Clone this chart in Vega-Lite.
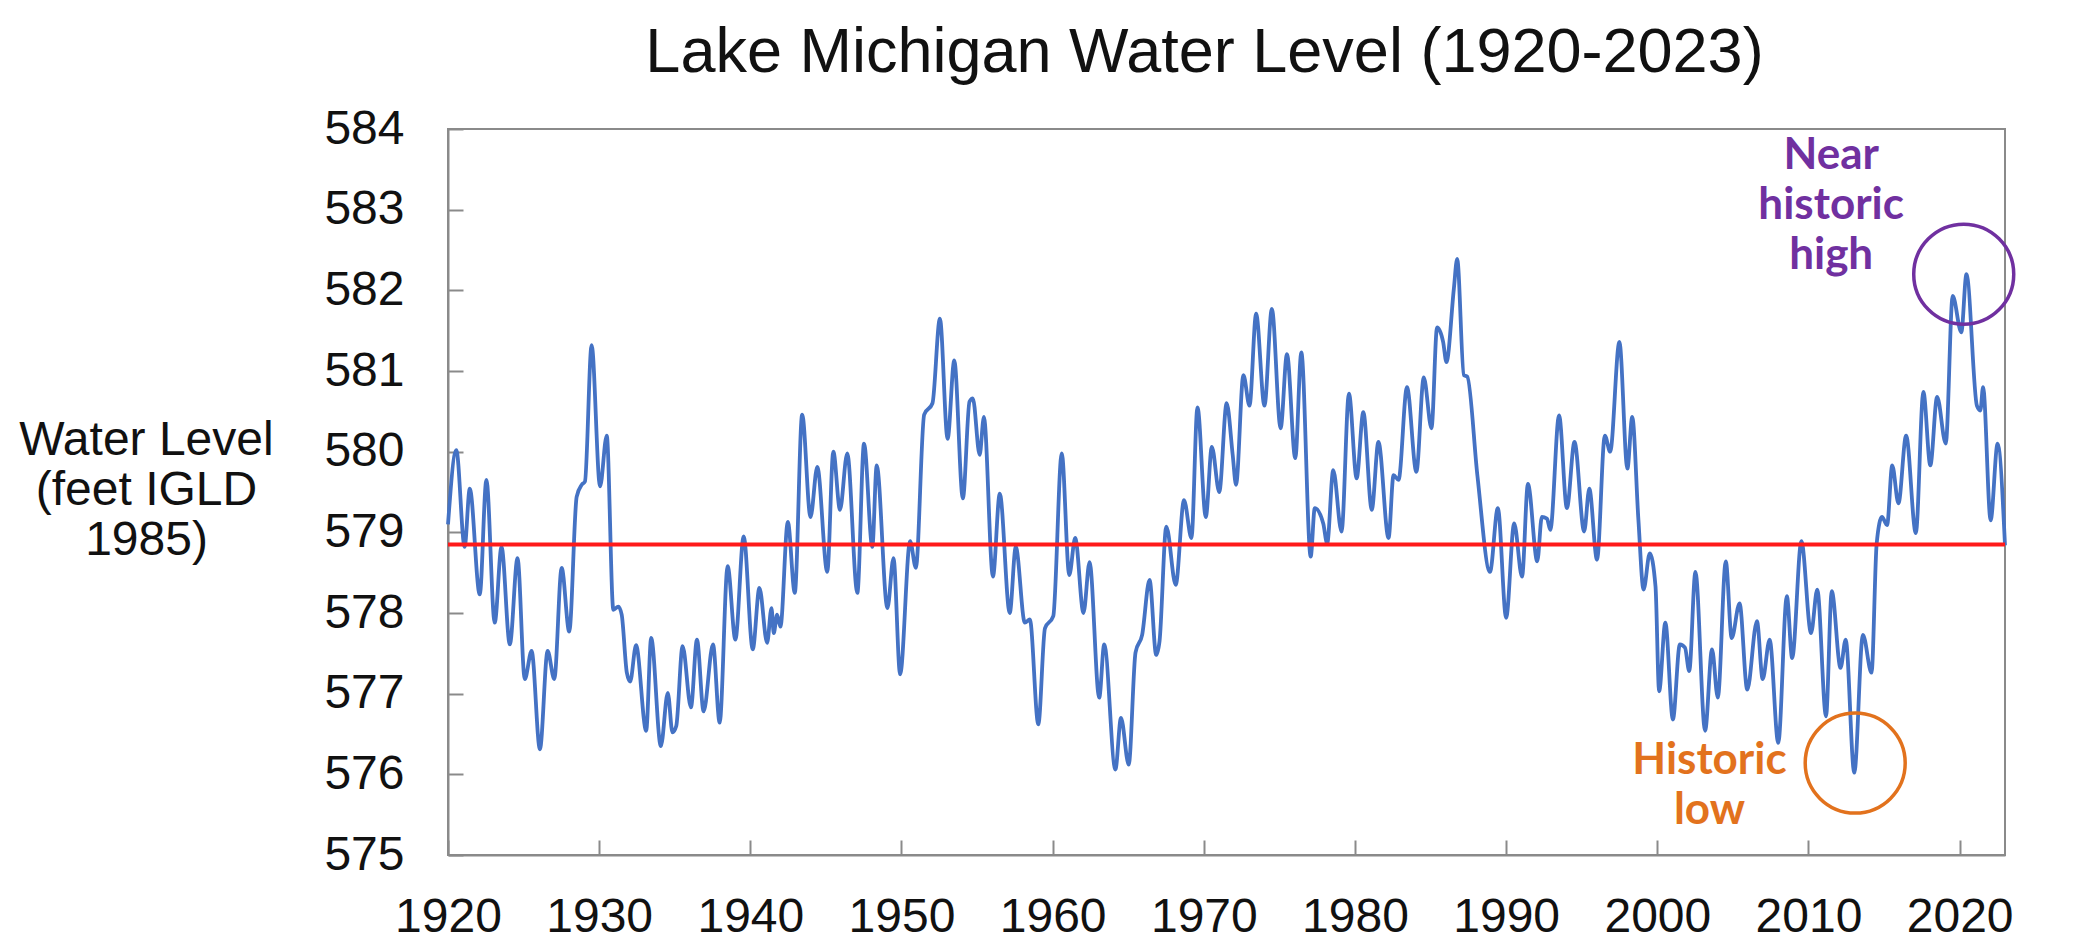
{
  "$schema": "https://vega.github.io/schema/vega-lite/v6.json",
  "width": 1557,
  "height": 726,
  "autosize": {"type": "none"},
  "padding": {"left": 448, "top": 129, "right": 79, "bottom": 96},
  "background": "white",
  "title": {
    "text": "Lake Michigan Water Level (1920-2023)",
    "font": "Liberation Sans",
    "fontSize": 63,
    "fontWeight": "normal",
    "color": "#111111",
    "anchor": "middle",
    "offset": 20,
    "dx": -22
  },
  "config": {
    "view": {"stroke": "#8a8a8a", "strokeWidth": 2},
    "axis": {
      "labelFont": "Liberation Sans",
      "labelFontSize": 48,
      "labelColor": "#111111",
      "tickSize": -15,
      "tickColor": "#8a8a8a",
      "tickWidth": 2,
      "domainColor": "#8a8a8a",
      "domainWidth": 2,
      "grid": false,
      "labelFlush": false,
      "labelOverlap": false
    }
  },
  "datasets": {
    "levels": [
      {"year": 1920.0, "level": 579.1},
      {"year": 1920.55, "level": 580.02},
      {"year": 1921.1, "level": 578.82},
      {"year": 1921.44, "level": 579.54},
      {"year": 1922.1, "level": 578.23},
      {"year": 1922.54, "level": 579.65},
      {"year": 1923.09, "level": 577.88},
      {"year": 1923.54, "level": 578.82},
      {"year": 1924.09, "level": 577.61},
      {"year": 1924.6, "level": 578.68},
      {"year": 1925.08, "level": 577.18},
      {"year": 1925.53, "level": 577.53},
      {"year": 1926.08, "level": 576.31},
      {"year": 1926.59, "level": 577.53},
      {"year": 1927.03, "level": 577.18},
      {"year": 1927.52, "level": 578.56},
      {"year": 1928.02, "level": 577.77},
      {"year": 1928.51, "level": 579.44},
      {"year": 1928.85, "level": 579.59},
      {"year": 1929.06, "level": 579.63},
      {"year": 1929.5, "level": 581.32},
      {"year": 1930.06, "level": 579.57},
      {"year": 1930.5, "level": 580.2},
      {"year": 1930.94, "level": 578.04},
      {"year": 1931.27, "level": 578.08},
      {"year": 1931.49, "level": 577.98},
      {"year": 1931.83, "level": 577.26},
      {"year": 1932.05, "level": 577.15},
      {"year": 1932.44, "level": 577.6},
      {"year": 1933.11, "level": 576.54},
      {"year": 1933.44, "level": 577.69},
      {"year": 1934.08, "level": 576.35},
      {"year": 1934.54, "level": 577.01},
      {"year": 1934.85, "level": 576.52},
      {"year": 1935.1, "level": 576.6},
      {"year": 1935.52, "level": 577.59},
      {"year": 1936.07, "level": 576.83},
      {"year": 1936.47, "level": 577.67},
      {"year": 1936.91, "level": 576.78},
      {"year": 1937.53, "level": 577.61},
      {"year": 1937.97, "level": 576.64},
      {"year": 1938.5, "level": 578.58},
      {"year": 1939.01, "level": 577.67},
      {"year": 1939.56, "level": 578.95},
      {"year": 1940.16, "level": 577.55},
      {"year": 1940.6, "level": 578.31},
      {"year": 1941.11, "level": 577.63},
      {"year": 1941.4, "level": 578.06},
      {"year": 1941.55, "level": 577.75},
      {"year": 1941.77, "level": 577.98},
      {"year": 1941.99, "level": 577.83},
      {"year": 1942.48, "level": 579.13},
      {"year": 1942.94, "level": 578.25},
      {"year": 1943.43, "level": 580.46},
      {"year": 1943.98, "level": 579.19},
      {"year": 1944.43, "level": 579.81},
      {"year": 1945.09, "level": 578.51},
      {"year": 1945.49, "level": 580.0},
      {"year": 1945.93, "level": 579.28},
      {"year": 1946.41, "level": 579.98},
      {"year": 1947.08, "level": 578.25},
      {"year": 1947.52, "level": 580.1},
      {"year": 1948.07, "level": 578.82},
      {"year": 1948.36, "level": 579.83},
      {"year": 1949.07, "level": 578.06},
      {"year": 1949.47, "level": 578.68},
      {"year": 1949.91, "level": 577.24},
      {"year": 1950.57, "level": 578.89},
      {"year": 1950.95, "level": 578.56},
      {"year": 1951.5, "level": 580.46},
      {"year": 1952.05, "level": 580.6},
      {"year": 1952.54, "level": 581.65},
      {"year": 1953.05, "level": 580.16},
      {"year": 1953.49, "level": 581.13},
      {"year": 1954.06, "level": 579.42},
      {"year": 1954.5, "level": 580.62},
      {"year": 1954.72, "level": 580.66},
      {"year": 1955.17, "level": 579.96},
      {"year": 1955.45, "level": 580.43},
      {"year": 1956.05, "level": 578.45},
      {"year": 1956.5, "level": 579.48},
      {"year": 1957.16, "level": 578.0},
      {"year": 1957.56, "level": 578.82},
      {"year": 1958.16, "level": 577.88},
      {"year": 1958.49, "level": 577.92},
      {"year": 1959.05, "level": 576.62},
      {"year": 1959.49, "level": 577.81},
      {"year": 1960.04, "level": 577.96},
      {"year": 1960.6, "level": 579.98},
      {"year": 1961.1, "level": 578.47},
      {"year": 1961.49, "level": 578.93},
      {"year": 1962.04, "level": 578.0},
      {"year": 1962.44, "level": 578.63},
      {"year": 1963.08, "level": 576.95},
      {"year": 1963.41, "level": 577.61},
      {"year": 1964.15, "level": 576.06},
      {"year": 1964.52, "level": 576.7},
      {"year": 1965.03, "level": 576.12},
      {"year": 1965.48, "level": 577.51},
      {"year": 1965.92, "level": 577.73},
      {"year": 1966.41, "level": 578.41},
      {"year": 1966.85, "level": 577.48},
      {"year": 1967.07, "level": 577.65},
      {"year": 1967.52, "level": 579.07},
      {"year": 1968.14, "level": 578.35},
      {"year": 1968.69, "level": 579.4},
      {"year": 1969.18, "level": 578.93},
      {"year": 1969.58, "level": 580.55},
      {"year": 1970.13, "level": 579.19},
      {"year": 1970.53, "level": 580.06},
      {"year": 1971.02, "level": 579.5},
      {"year": 1971.51, "level": 580.6},
      {"year": 1971.91, "level": 579.96},
      {"year": 1972.13, "level": 579.59},
      {"year": 1972.62, "level": 580.95},
      {"year": 1973.02, "level": 580.57},
      {"year": 1973.46, "level": 581.71},
      {"year": 1974.01, "level": 580.57},
      {"year": 1974.5, "level": 581.77},
      {"year": 1975.08, "level": 580.29},
      {"year": 1975.5, "level": 581.21},
      {"year": 1976.05, "level": 579.92},
      {"year": 1976.45, "level": 581.23},
      {"year": 1977.07, "level": 578.7},
      {"year": 1977.34, "level": 579.3},
      {"year": 1977.9, "level": 579.11},
      {"year": 1978.16, "level": 578.86},
      {"year": 1978.56, "level": 579.77},
      {"year": 1979.11, "level": 579.01},
      {"year": 1979.6, "level": 580.72},
      {"year": 1980.11, "level": 579.67},
      {"year": 1980.55, "level": 580.49},
      {"year": 1981.11, "level": 579.28},
      {"year": 1981.55, "level": 580.12},
      {"year": 1982.22, "level": 578.93},
      {"year": 1982.55, "level": 579.71},
      {"year": 1982.88, "level": 579.65},
      {"year": 1983.44, "level": 580.8},
      {"year": 1984.06, "level": 579.75},
      {"year": 1984.55, "level": 580.92},
      {"year": 1985.06, "level": 580.29},
      {"year": 1985.43, "level": 581.54},
      {"year": 1985.83, "level": 581.36},
      {"year": 1986.05, "level": 581.11},
      {"year": 1986.54, "level": 582.02},
      {"year": 1986.76, "level": 582.39},
      {"year": 1987.2, "level": 580.95},
      {"year": 1987.43, "level": 580.93},
      {"year": 1988.1, "level": 579.7},
      {"year": 1988.93, "level": 578.51},
      {"year": 1989.45, "level": 579.3},
      {"year": 1990.0, "level": 577.94},
      {"year": 1990.53, "level": 579.11},
      {"year": 1991.05, "level": 578.45},
      {"year": 1991.44, "level": 579.6},
      {"year": 1992.06, "level": 578.64},
      {"year": 1992.36, "level": 579.19},
      {"year": 1992.7, "level": 579.17},
      {"year": 1992.92, "level": 579.03},
      {"year": 1993.5, "level": 580.45},
      {"year": 1994.02, "level": 579.3},
      {"year": 1994.52, "level": 580.12},
      {"year": 1995.16, "level": 579.01},
      {"year": 1995.5, "level": 579.54},
      {"year": 1996.01, "level": 578.66},
      {"year": 1996.53, "level": 580.2},
      {"year": 1996.88, "level": 580.0},
      {"year": 1997.49, "level": 581.36},
      {"year": 1998.02, "level": 579.79},
      {"year": 1998.34, "level": 580.43},
      {"year": 1998.75, "level": 579.15},
      {"year": 1999.09, "level": 578.29},
      {"year": 1999.5, "level": 578.74},
      {"year": 1999.88, "level": 578.33},
      {"year": 2000.12, "level": 577.03},
      {"year": 2000.53, "level": 577.88},
      {"year": 2001.03, "level": 576.68},
      {"year": 2001.49, "level": 577.61},
      {"year": 2001.83, "level": 577.57},
      {"year": 2002.11, "level": 577.28},
      {"year": 2002.52, "level": 578.51},
      {"year": 2003.16, "level": 576.54},
      {"year": 2003.62, "level": 577.55},
      {"year": 2004.0, "level": 576.95},
      {"year": 2004.53, "level": 578.64},
      {"year": 2004.92, "level": 577.69},
      {"year": 2005.44, "level": 578.12},
      {"year": 2005.95, "level": 577.05},
      {"year": 2006.59, "level": 577.9},
      {"year": 2006.97, "level": 577.18},
      {"year": 2007.43, "level": 577.67},
      {"year": 2008.0, "level": 576.39},
      {"year": 2008.57, "level": 578.21},
      {"year": 2008.92, "level": 577.44},
      {"year": 2009.53, "level": 578.89},
      {"year": 2010.17, "level": 577.75},
      {"year": 2010.58, "level": 578.29},
      {"year": 2011.16, "level": 576.72},
      {"year": 2011.54, "level": 578.27},
      {"year": 2012.12, "level": 577.32},
      {"year": 2012.46, "level": 577.67},
      {"year": 2013.03, "level": 576.02},
      {"year": 2013.6, "level": 577.73},
      {"year": 2014.17, "level": 577.26},
      {"year": 2014.51, "level": 578.86},
      {"year": 2014.86, "level": 579.19},
      {"year": 2015.2, "level": 579.09},
      {"year": 2015.54, "level": 579.83},
      {"year": 2015.95, "level": 579.36},
      {"year": 2016.46, "level": 580.2},
      {"year": 2017.1, "level": 578.99},
      {"year": 2017.6, "level": 580.74},
      {"year": 2018.06, "level": 579.83},
      {"year": 2018.51, "level": 580.68},
      {"year": 2019.08, "level": 580.1},
      {"year": 2019.54, "level": 581.93},
      {"year": 2020.11, "level": 581.48},
      {"year": 2020.45, "level": 582.2},
      {"year": 2021.14, "level": 580.57},
      {"year": 2021.37, "level": 580.51},
      {"year": 2021.55, "level": 580.8},
      {"year": 2022.05, "level": 579.15},
      {"year": 2022.51, "level": 580.1},
      {"year": 2023.0, "level": 578.84}
    ],
    "average": [{"level": 578.85}],
    "labels": [
      {"year": 2011.5, "level": 583.67, "kind": "high", "label": "Near\nhistoric\nhigh"},
      {"year": 2003.45, "level": 576.16, "kind": "low", "label": "Historic\nlow"}
    ],
    "circles": [
      {"year": 2020.27, "level": 582.2, "kind": "high"},
      {"year": 2013.09, "level": 576.14, "kind": "low"}
    ]
  },
  "layer": [
    {
      "data": {"name": "levels"},
      "mark": {"type": "line", "color": "#4472C4", "strokeWidth": 3.8, "interpolate": "monotone"},
      "encoding": {
        "x": {
          "field": "year",
          "type": "quantitative",
          "scale": {"domain": [1920, 2023], "nice": false, "zero": false},
          "axis": {
            "values": [1920, 1930, 1940, 1950, 1960, 1970, 1980, 1990, 2000, 2010, 2020],
            "format": "d",
            "title": null,
            "labelPadding": 53
          }
        },
        "y": {
          "field": "level",
          "type": "quantitative",
          "scale": {"domain": [575, 584], "nice": false, "zero": false},
          "axis": {
            "values": [575, 576, 577, 578, 579, 580, 581, 582, 583, 584],
            "format": "d",
            "labelPadding": 59,
            "title": ["Water Level", "(feet IGLD", "1985)"],
            "titleFont": "Liberation Sans",
            "titleFontSize": 48,
            "titleFontWeight": "normal",
            "titleColor": "#111111",
            "titleAngle": 0,
            "titleAlign": "center",
            "titleBaseline": "middle",
            "titleLineHeight": 50,
            "titleX": -302,
            "titleY": 311
          }
        }
      }
    },
    {
      "data": {"name": "average"},
      "mark": {"type": "rule", "color": "#FF1A1A", "strokeWidth": 4},
      "encoding": {"y": {"field": "level", "type": "quantitative"}}
    },
    {
      "data": {"name": "circles"},
      "mark": {"type": "point", "shape": "circle", "filled": false, "size": 10000, "strokeWidth": 3.5, "opacity": 1},
      "encoding": {
        "x": {"field": "year", "type": "quantitative"},
        "y": {"field": "level", "type": "quantitative"},
        "color": {"field": "kind", "type": "nominal", "scale": {"domain": ["high", "low"], "range": ["#7030A0", "#E2721D"]}, "legend": null}
      }
    },
    {
      "data": {"name": "labels"},
      "mark": {"type": "text", "font": "Lato", "fontSize": 44, "fontWeight": "bold", "align": "center", "baseline": "middle", "lineBreak": "\n", "lineHeight": 50},
      "encoding": {
        "x": {"field": "year", "type": "quantitative"},
        "y": {"field": "level", "type": "quantitative"},
        "text": {"field": "label"},
        "color": {"field": "kind", "type": "nominal", "scale": {"domain": ["high", "low"], "range": ["#7030A0", "#E2721D"]}, "legend": null}
      }
    }
  ]
}
